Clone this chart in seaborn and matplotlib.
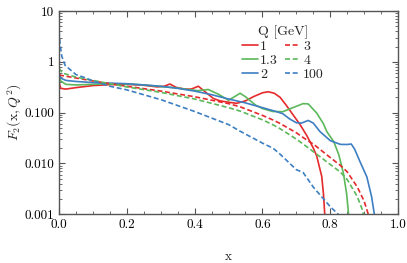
import numpy as np
import pandas as pd
import matplotlib
matplotlib.use("Agg")
import matplotlib.pyplot as plt
from matplotlib.ticker import MultipleLocator, LogLocator, NullFormatter
import seaborn as sns

# F2(x, Q^2), one pair of arrays per Q
x_q1 = [0.0, 0.005, 0.02, 0.05, 0.1, 0.15, 0.2, 0.25, 0.29, 0.31, 0.327, 0.345, 0.37, 0.39,
        0.411, 0.43, 0.455, 0.475, 0.5, 0.524, 0.55, 0.573, 0.6, 0.617, 0.635, 0.652, 0.67,
        0.691, 0.711, 0.731, 0.75, 0.76, 0.77, 0.775, 0.78, 0.783, 0.786]
f2_q1 = [0.40, 0.30, 0.29, 0.31, 0.34, 0.355, 0.36, 0.345, 0.32, 0.33, 0.365, 0.315, 0.29, 0.29,
         0.33, 0.26, 0.19, 0.17, 0.16, 0.152, 0.17, 0.205, 0.245, 0.257, 0.24, 0.2, 0.14,
         0.089, 0.058, 0.035, 0.02, 0.014, 0.0075, 0.0055, 0.0025, 0.0012, 0.0006]

x_q13 = [0.0, 0.005, 0.02, 0.05, 0.1, 0.15, 0.2, 0.25, 0.3, 0.35, 0.38, 0.41, 0.44, 0.47, 0.5,
         0.52, 0.534, 0.55, 0.58, 0.6, 0.63, 0.66, 0.69, 0.72, 0.735, 0.76, 0.78, 0.79, 0.81,
         0.825, 0.839, 0.848, 0.853, 0.856]
f2_q13 = [0.55, 0.42, 0.36, 0.35, 0.36, 0.37, 0.365, 0.35, 0.325, 0.305, 0.285, 0.27, 0.285, 0.23, 0.175,
          0.21, 0.24, 0.205, 0.14, 0.12, 0.105, 0.104, 0.125, 0.15, 0.148, 0.098, 0.06, 0.042, 0.027,
          0.015, 0.0063, 0.0026, 0.0012, 0.0006]

x_q2 = [0.0, 0.005, 0.02, 0.05, 0.1, 0.15, 0.2, 0.25, 0.3, 0.35, 0.4, 0.45, 0.5, 0.55, 0.6,
        0.64, 0.66, 0.68, 0.7, 0.715, 0.735, 0.75, 0.77, 0.8, 0.83, 0.85, 0.862, 0.872,
        0.888, 0.908, 0.922, 0.93, 0.933]
f2_q2 = [0.62, 0.48, 0.43, 0.41, 0.39, 0.38, 0.37, 0.35, 0.33, 0.3, 0.265, 0.225, 0.185, 0.155, 0.125,
         0.105, 0.095, 0.075, 0.063, 0.062, 0.07, 0.062, 0.042, 0.028, 0.0236, 0.0235, 0.024, 0.019,
         0.0107, 0.0054, 0.0022, 0.001, 0.0006]

x_q3 = [0.0, 0.02, 0.05, 0.1, 0.15, 0.2, 0.3, 0.4, 0.5, 0.534, 0.6, 0.632, 0.65, 0.7, 0.731,
        0.75, 0.8, 0.829, 0.85, 0.88, 0.9, 0.912, 0.918]
f2_q3 = [0.55, 0.52, 0.48, 0.42, 0.37, 0.33, 0.265, 0.205, 0.15, 0.13, 0.088, 0.071, 0.062, 0.04, 0.0287,
         0.024, 0.013, 0.0092, 0.0068, 0.0034, 0.0018, 0.001, 0.0006]

x_q4 = [0.0, 0.01, 0.05, 0.1, 0.15, 0.2, 0.3, 0.4, 0.5, 0.534, 0.6, 0.632, 0.65, 0.7, 0.731,
        0.75, 0.8, 0.829, 0.85, 0.88, 0.895, 0.9]
f2_q4 = [0.75, 0.6, 0.5, 0.43, 0.37, 0.32, 0.25, 0.185, 0.125, 0.107, 0.072, 0.057, 0.049, 0.03, 0.0212,
         0.017, 0.0095, 0.0068, 0.0048, 0.0022, 0.0012, 0.0008]

x_q100 = [0.0, 0.001, 0.003, 0.008, 0.018, 0.033, 0.05, 0.075, 0.1, 0.12, 0.15, 0.2, 0.3, 0.4, 0.5,
          0.534, 0.6, 0.632, 0.65, 0.7, 0.72, 0.75, 0.8, 0.823, 0.832]
f2_q100 = [4.0, 3.3, 2.3, 1.3, 0.85, 0.7, 0.56, 0.49, 0.42, 0.38, 0.33, 0.28, 0.18, 0.105, 0.058,
           0.043, 0.025, 0.0197, 0.0156, 0.0075, 0.0066, 0.0034, 0.0014, 0.001, 0.0007]

q_labels = ["1", "1.3", "2", "3", "4", "100"]
q_colors = ["#e52a2c", "#5cb85a", "#3d7fc2", "#e52a2c", "#5cb85a", "#3d7fc2"]
q_dashed = [False, False, False, True, True, True]

y_ticks = [0.001, 0.01, 0.1, 1, 10]
y_ticklabels = ["0.001", "0.010", "0.100", "1", "10"]
x_ticks = [0.0, 0.2, 0.4, 0.6, 0.8, 1.0]
x_ticklabels = ["0.0", "0.2", "0.4", "0.6", "0.8", "1.0"]

series = [(x_q1, f2_q1), (x_q13, f2_q13), (x_q2, f2_q2),
          (x_q3, f2_q3), (x_q4, f2_q4), (x_q100, f2_q100)]
df = pd.concat(
    [pd.DataFrame({"x": xs, "F2": ys, "Q": q}) for (xs, ys), q in zip(series, q_labels)],
    ignore_index=True,
)

sns.set_theme(style="ticks")
plt.rcParams["font.family"] = ["cmr10", "DejaVu Serif"]
plt.rcParams["mathtext.fontset"] = "cm"
plt.rcParams["axes.formatter.use_mathtext"] = True
plt.rcParams["font.size"] = 9.5

fig = plt.figure(figsize=(4.07, 2.63), dpi=100)
ax = fig.add_axes([0.145, 0.186, 0.833, 0.772])

sns.lineplot(
    data=df, x="x", y="F2", hue="Q", style="Q",
    hue_order=q_labels, style_order=q_labels,
    palette=dict(zip(q_labels, q_colors)),
    dashes={q: ((3, 1.6) if d else "") for q, d in zip(q_labels, q_dashed)},
    estimator=None, sort=False, linewidth=1.2, ax=ax, legend=False,
)

ax.set_yscale("log")
ax.set_xlim(0, 1)
ax.set_ylim(0.001, 10)
ax.set_xticks(x_ticks, x_ticklabels)
ax.set_yticks(y_ticks, y_ticklabels)
ax.xaxis.set_minor_locator(MultipleLocator(0.05))
ax.yaxis.set_minor_locator(LogLocator(base=10, subs=np.arange(2, 10)))
ax.yaxis.set_minor_formatter(NullFormatter())

edge = "#555555"
for sp in ax.spines.values():
    sp.set_visible(True)
    sp.set_color(edge)
    sp.set_linewidth(1.0)
ax.tick_params(which="both", direction="in", top=True, right=True, color=edge,
               labelsize=9.5, labelcolor="black")
ax.tick_params(which="major", length=4, width=0.8)
ax.tick_params(which="minor", length=2, width=0.6)

ax.set_xlabel("x", fontsize=9.5, labelpad=14)
ax.set_ylabel(r"$F_2(\mathrm{x},Q^2)$", fontsize=10, va="center")
ax.yaxis.set_label_coords(-0.13, 0.5)

handles = [
    plt.Line2D([], [], color=c, lw=1.2, ls=(0, (3, 1.6)) if d else "-")
    for c, d in zip(q_colors, q_dashed)
]
ax.legend(handles, q_labels, title="Q [GeV]", ncol=2, loc="upper left",
          bbox_to_anchor=(0.52, 0.965), frameon=False, fontsize=10, title_fontsize=10,
          handlelength=1.1, handletextpad=0.2, columnspacing=0.5, labelspacing=0.1,
          borderpad=0.0)

fig.savefig("out.png", dpi=100)
